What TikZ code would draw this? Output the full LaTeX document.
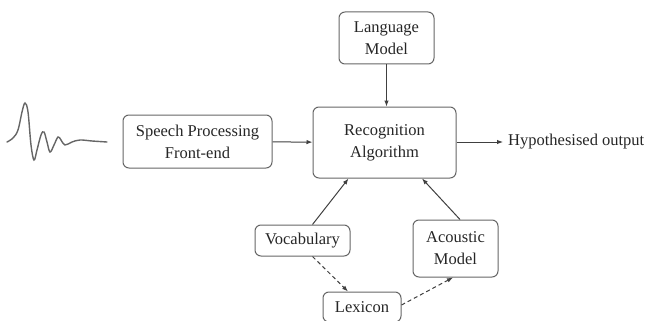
\documentclass[tikz,border=0pt]{standalone}
\usepackage{fontspec}
\setmainfont{Liberation Serif}
\usetikzlibrary{arrows.meta,calc}
\begin{document}
\begin{tikzpicture}[x=1pt,y=-1pt,
  blk/.style={draw=black!60,line width=1pt,rounded corners=6pt,align=center,
    inner sep=0pt,text=black!85,font=\fontsize{16.5}{22}\selectfont},
  arr/.style={draw=black!75,line width=1pt,-{Latex[length=6pt,width=4.5pt]}},
  darr/.style={arr,dashed,dash pattern=on 4pt off 3pt}]
\useasboundingbox[fill=white] (0,0) rectangle (656,321);
\draw[black!60,line width=1.4pt,line cap=round] plot[smooth,tension=0.6] coordinates
 {(7,142) (13,138) (18,130) (22,112) (25,103) (28,112) (31,145) (34,160) (37,150)
  (41,135) (44,132) (47,142) (50,152) (54,145) (58,137) (61,140) (65,145) (72,142)
  (80,140) (92,141) (107,142)};
\node[blk,minimum width=95pt,minimum height=52pt] (lm) at (386.5,38) {Language\\Model};
\node[blk,minimum width=143pt,minimum height=71pt] (ra) at (384.5,142.5) {Recognition\\Algorithm};
\node[blk,minimum width=149pt,minimum height=53pt] (sp) at (197.5,141.5) {Speech Processing\\Front-end};
\node[blk,minimum width=95pt,minimum height=31pt] (voc) at (302.5,240.5) {Vocabulary};
\node[blk,minimum width=85pt,minimum height=57pt] (ac) at (455.5,248.5) {Acoustic\\Model};
\node[blk,minimum width=78pt,minimum height=30pt] (lex) at (362,307) {Lexicon};
\node[anchor=west,inner sep=0pt,text=black!85,font=\fontsize{16.5}{22}\selectfont] (out) at (508,142) {Hypothesised output};
\draw[arr] (lm) -- (lm |- ra.north);
\draw[arr] (sp) -- (ra);
\draw[arr] (ra.east |- out.west) -- ($(out.west)+(-5,0)$);
\draw[arr] ($(voc.north)+(10,0)$) -- ($(ra.south)+(-36,0)$);
\draw[arr] ($(ac.north)+(4.5,0)$) -- ($(ra.south)+(37.5,0)$);
\draw[darr] ($(voc.south)+(10,0)$) -- ($(lex.north)+(-14,0)$);
\draw[darr] ($(lex.east)+(0,-2)$) -- ($(ac.south)+(-2.5,0)$);
\end{tikzpicture}
\end{document}
